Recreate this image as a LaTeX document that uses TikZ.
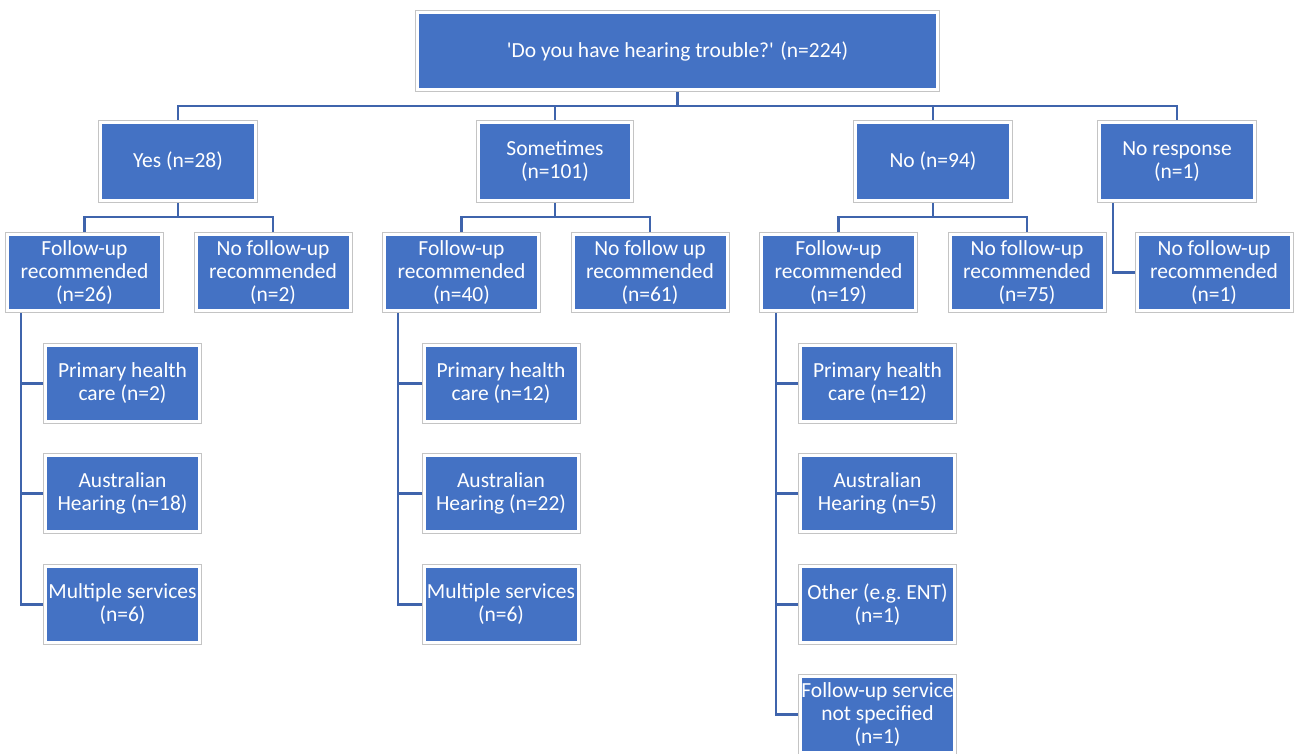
\documentclass[tikz,border=0pt]{standalone}
\usepackage{fontspec}
\setmainfont{Carlito}[Ligatures=TeXOff]
\usetikzlibrary{backgrounds}
\definecolor{boxblue}{HTML}{4472C4}
\definecolor{linkblue}{HTML}{3F64AC}
\definecolor{framegray}{HTML}{C4C4C4}
\tikzset{
  box/.style={rectangle, fill=boxblue, draw=white, line width=3pt,
    preaction={draw=framegray, line width=5pt},
    minimum width=154pt, minimum height=76pt, inner sep=0pt,
    text=white, align=center, font=\fontsize{21.5}{23}\selectfont},
  link/.style={draw=linkblue, line width=2.4pt}
}
\begin{document}
\begin{tikzpicture}[x=1pt,y=-1pt]
\useasboundingbox (0,0) rectangle (1294,753);
% level 0
\node[box, minimum width=520pt, minimum height=77pt] (top) at (677.5,51) {'Do you have hearing trouble?' (n=224)};
% level 1
\node[box, minimum width=155pt, minimum height=78pt] (yes) at (178,161.5) {Yes (n=28)};
\node[box, minimum width=153pt, minimum height=78pt] (some) at (555,161.5) {Sometimes\\(n=101)};
\node[box, minimum width=155pt, minimum height=78pt] (no) at (933,161.5) {No (n=94)};
\node[box, minimum width=155pt, minimum height=78pt] (nr) at (1177,161.5) {No response\\(n=1)};
% level 2
\node[box] (yfu) at (84.5,272.5) {Follow-up\\recommended\\(n=26)};
\node[box] (ynf) at (273,272.5) {No follow-up\\recommended\\(n=2)};
\node[box] (sfu) at (461.5,272.5) {Follow-up\\recommended\\(n=40)};
\node[box] (snf) at (650,272.5) {No follow up\\recommended\\(n=61)};
\node[box] (nfu) at (838.5,272.5) {Follow-up\\recommended\\(n=19)};
\node[box] (nnf) at (1027,272.5) {No follow-up\\recommended\\(n=75)};
\node[box] (rnf) at (1214,272.5) {No follow-up\\recommended\\(n=1)};
% level 3, Yes
\node[box] (y1) at (122.5,383.5) {Primary health\\care (n=2)};
\node[box] (y2) at (122.5,493.5) {Australian\\Hearing (n=18)};
\node[box] (y3) at (122.5,604.5) {\makebox[0pt]{Multiple services}\\(n=6)};
% level 3, Sometimes
\node[box] (s1) at (501,383.5) {Primary health\\care (n=12)};
\node[box] (s2) at (501,493.5) {Australian\\Hearing (n=22)};
\node[box] (s3) at (501,604.5) {\makebox[0pt]{Multiple services}\\(n=6)};
% level 3, No
\node[box] (n1) at (877.5,383.5) {Primary health\\care (n=12)};
\node[box] (n2) at (877.5,493.5) {Australian\\Hearing (n=5)};
\node[box] (n3) at (877.5,604.5) {Other (e.g.\ ENT)\\(n=1)};
\node[box] (n4) at (877.5,714.5) {\makebox[0pt]{Follow-up service}\\not specified\\(n=1)};
% junction coordinates
\coordinate (bus0) at (677.5,106);
\coordinate (busY) at (178,217);
\coordinate (busS) at (555,217);
\coordinate (busN) at (933,217);
\coordinate (trY) at (21,313);
\coordinate (trS) at (398,313);
\coordinate (trN) at (776,313);
\coordinate (trR) at (1113,203);
\begin{scope}[on background layer]
\draw[link] (top.south) -- (bus0);
\draw[link] (yes.north) |- (bus0);
\draw[link] (some.north) |- (bus0);
\draw[link] (no.north) |- (bus0);
\draw[link] (nr.north) |- (bus0);
\draw[link] (yes.south) -- (busY);
\draw[link] (yfu.north) |- (busY);
\draw[link] (ynf.north) |- (busY);
\draw[link] (some.south) -- (busS);
\draw[link] (sfu.north) |- (busS);
\draw[link] (snf.north) |- (busS);
\draw[link] (no.south) -- (busN);
\draw[link] (nfu.north) |- (busN);
\draw[link] (nnf.north) |- (busN);
\draw[link] (trY) |- (y1.west);
\draw[link] (trY) |- (y2.west);
\draw[link] (trY) |- (y3.west);
\draw[link] (trS) |- (s1.west);
\draw[link] (trS) |- (s2.west);
\draw[link] (trS) |- (s3.west);
\draw[link] (trN) |- (n1.west);
\draw[link] (trN) |- (n2.west);
\draw[link] (trN) |- (n3.west);
\draw[link] (trN) |- (n4.west);
\draw[link] (trR) |- (rnf.west);
\end{scope}
\end{tikzpicture}
\end{document}
